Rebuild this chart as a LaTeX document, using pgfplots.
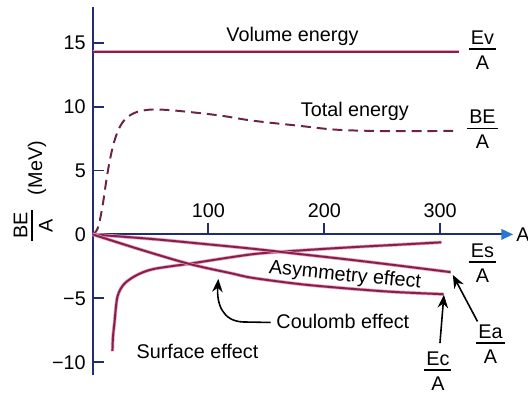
\documentclass[border=0pt]{standalone}
\usepackage{fontspec}
\setmainfont{Liberation Sans}
\usepackage{pgfplots}
\pgfplotsset{compat=1.18}
\usetikzlibrary{arrows.meta}

\definecolor{axisnavy}{RGB}{35,45,110}
\definecolor{curve}{RGB}{135,30,75}
\definecolor{dashcol}{RGB}{110,35,70}
\definecolor{halo}{RGB}{230,160,190}
\definecolor{arrowblue}{RGB}{40,120,210}

% stacked fraction: numerator over a rule over denominator
\newcommand{\fr}[2]{\begin{tabular}{@{\hspace{1.5pt}}c@{\hspace{1.5pt}}}#1\\[-2.4pt]\hline\rule{0pt}{15pt}#2\end{tabular}}

\begin{document}
\fontsize{15}{18}\selectfont
\setlength{\arrayrulewidth}{1.2pt}
\begin{tikzpicture}
\begin{axis}[
  scale only axis, width=318.75pt, height=279pt,
  xmin=0, xmax=363, ymin=-11, ymax=17.8,
  axis x line=middle, axis y line=left,
  axis line style={draw=axisnavy, line width=1.5pt},
  x axis line style={-{Triangle[length=9pt,width=8pt,color=arrowblue]}},
  y axis line style={-},
  xtick={100,200,300}, xticklabels={100,200,300},
  ytick={-10,-5,0,5,10,15}, yticklabels={−10,−5,0,5,10,15},
  hide obscured x ticks=false, hide obscured y ticks=false,
  tick align=inside, major tick length=9pt,
  tick style={draw=axisnavy, line width=1.5pt},
  xticklabel style={anchor=south, yshift=7.5pt},
  clip=false,
  every axis plot/.append style={line width=1.5pt},
]
% volume term
\addplot[curve, preaction={draw=halo, line width=2.6pt}] coordinates {(0,14.3) (316,14.3)};
% total binding energy per nucleon
\addplot[dashcol, dash pattern=on 7.5pt off 4.5pt, smooth, tension=0.6] coordinates {
  (0,0) (4.5,0.5) (8.5,2.2) (12.5,4.6) (16.5,6.5) (21,7.9) (27,8.9) (36,9.5)
  (48,9.75) (62,9.75) (81,9.6) (110,9.3) (138,8.9) (178,8.5) (209,8.2)
  (240,8.1) (267,8.08) (315,8.1)};
% surface term
\addplot[curve, smooth, tension=0.5, preaction={draw=halo, line width=2.6pt}] coordinates {
  (17.1,-9.13) (17.6,-8.0) (18.8,-6.96) (21.4,-4.88) (27.3,-3.87) (38.4,-3.17)
  (53,-2.7) (83,-2.3) (138,-1.55) (180,-1.25) (224,-1.0) (265,-0.8) (301,-0.62)};
% asymmetry term
\addplot[curve, smooth, preaction={draw=halo, line width=2.6pt}] coordinates {
  (0,0) (50,-0.35) (100,-0.78) (138,-1.12) (180,-1.55) (224,-2.0) (265,-2.45) (309,-2.95)};
% Coulomb term
\addplot[curve, smooth, preaction={draw=halo, line width=2.6pt}] coordinates {
  (0,0) (40,-1.15) (83,-2.3) (120,-3.05) (138,-3.4) (180,-3.9) (224,-4.26) (260,-4.5) (303,-4.68)};

% labels
\node at (axis cs:172.5,15.48) {Volume energy};
\node at (axis cs:336.5,14.24) {\fr{Ev}{A}};
\node at (axis cs:226.3,9.6) {Total energy};
\node at (axis cs:336.5,8.05) {\fr{BE}{A}};
\node at (axis cs:336.5,-2.4) {\fr{Es}{A}};
\node[rotate=-5.5] at (axis cs:217.8,-3.25) {Asymmetry effect};
\node at (axis cs:216,-6.8) {Coulomb effect};
\node at (axis cs:90.5,-9.13) {Surface effect};
\node at (axis cs:343.4,-8.75) {\fr{Ea}{A}};
\node at (axis cs:298,-10.85) {\fr{Ec}{A}};
\node[anchor=west, inner sep=0pt] at (axis cs:365.6,0) {A};
\node[rotate=90] at (axis cs:-48,5.19) {(MeV)};
\node[rotate=90] at (axis cs:-49.5,0.7) {\fr{BE}{A}};

% pointers
\draw[-{Stealth[length=10pt,width=8pt]}, line width=1.2pt] (axis cs:332.2,-6.81) -- (axis cs:310.9,-3.17);
\draw[-{Stealth[length=10pt,width=8pt]}, line width=1.2pt] (axis cs:299.8,-8.5) -- (axis cs:303.2,-4.72);
\draw[-{Stealth[length=10pt,width=8pt]}, line width=1.2pt] (axis cs:153.7,-6.89) -- (axis cs:130,-6.85)
  .. controls (axis cs:112,-6.8) and (axis cs:107,-5.4) .. (axis cs:108.5,-3.48);

\coordinate (bbll) at (axis cs:-75.2,-12.62);
\coordinate (bbur) at (axis cs:375.8,18.34);
\end{axis}
\pgfresetboundingbox
\path[use as bounding box] (bbll) rectangle (bbur);
\end{tikzpicture}
\end{document}
